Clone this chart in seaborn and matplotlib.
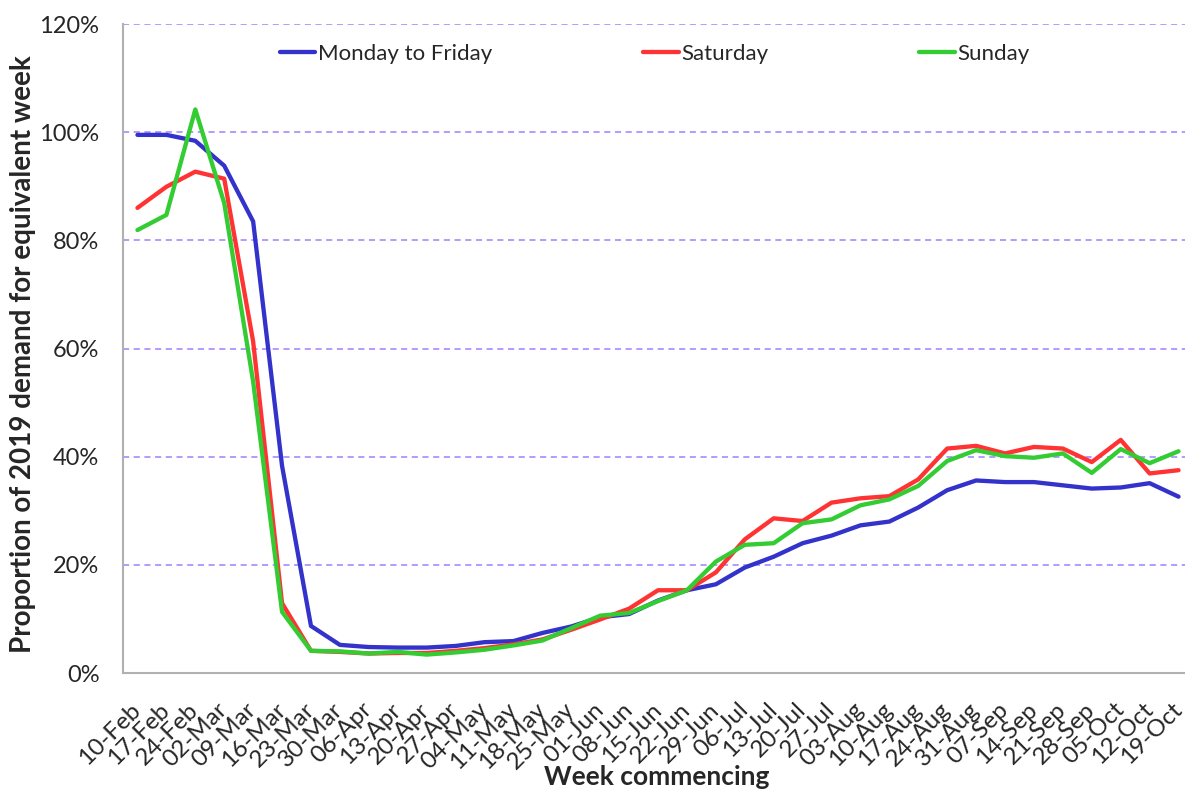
import numpy as np
import pandas as pd
import matplotlib
matplotlib.use("Agg")
import matplotlib.pyplot as plt
import seaborn as sns
from matplotlib.ticker import FixedLocator, FuncFormatter

weeks = ["10-Feb", "17-Feb", "24-Feb", "02-Mar", "09-Mar", "16-Mar", "23-Mar", "30-Mar",
         "06-Apr", "13-Apr", "20-Apr", "27-Apr", "04-May", "11-May", "18-May", "25-May",
         "01-Jun", "08-Jun", "15-Jun", "22-Jun", "29-Jun", "06-Jul", "13-Jul", "20-Jul",
         "27-Jul", "03-Aug", "10-Aug", "17-Aug", "24-Aug", "31-Aug", "07-Sep", "14-Sep",
         "21-Sep", "28-Sep", "05-Oct", "12-Oct", "19-Oct"]

mon_fri = [99.5, 99.5, 98.4, 93.8, 83.5, 38.3, 8.7, 5.2, 4.8, 4.7, 4.7, 5.0, 5.7, 5.9,
           7.4, 8.6, 10.3, 10.9, 13.4, 15.3, 16.4, 19.5, 21.5, 24.0, 25.4, 27.3, 28.0,
           30.6, 33.8, 35.6, 35.3, 35.3, 34.7, 34.1, 34.3, 35.1, 32.6]
saturday = [86.0, 89.9, 92.7, 91.4, 61.3, 12.9, 4.1, 3.9, 3.6, 3.7, 3.7, 4.1, 4.6, 5.3,
            6.2, 8.0, 9.9, 11.9, 15.3, 15.3, 18.6, 24.7, 28.6, 28.1, 31.5, 32.3, 32.7,
            35.8, 41.5, 42.0, 40.6, 41.8, 41.5, 39.0, 43.1, 36.9, 37.5]
sunday = [81.9, 84.7, 104.2, 86.9, 53.9, 11.3, 4.1, 4.0, 3.6, 3.9, 3.4, 3.8, 4.3, 5.1,
          6.0, 8.3, 10.6, 11.1, 13.3, 15.3, 20.6, 23.7, 24.0, 27.7, 28.4, 31.0, 32.1,
          34.6, 39.2, 41.2, 40.1, 39.8, 40.6, 37.0, 41.4, 38.8, 41.0]

series_names = ["Monday to Friday", "Saturday", "Sunday"]
colors = ["#3333CC", "#FF3333", "#33CC33"]
y_ticks = [0, 20, 40, 60, 80, 100, 120]

n = len(weeks)
df = pd.DataFrame({
    "pos": list(range(n)) * 3,
    "value": mon_fri + saturday + sunday,
    "series": [series_names[0]] * n + [series_names[1]] * n + [series_names[2]] * n,
})

sns.set_style("white")
plt.rcParams["font.family"] = ["Lato", "DejaVu Sans"]

fig = plt.figure(figsize=(11.85, 7.91), dpi=100)
AX_W = 1070
ax = fig.add_axes([123 / 1185, 118 / 791, AX_W / 1185, 649 / 791])

sns.lineplot(data=df, x="pos", y="value", hue="series", hue_order=series_names,
             palette=colors, linewidth=3.1, ax=ax, sort=False)

ax.set_xlim(-0.5, n - 0.5)
ax.set_ylim(0, 120)

# grid
for yv in y_ticks[1:]:
    ax.axhline(yv, color="#9f7fff", linestyle=(0, (4, 3)), linewidth=1.1, zorder=0)

ax.yaxis.set_major_locator(FixedLocator(y_ticks))
ax.yaxis.set_major_formatter(FuncFormatter(lambda v, p: f"{int(v)}%"))
ax.xaxis.set_major_locator(FixedLocator(list(range(n))))
ax.set_xticklabels(weeks)
ax.xaxis.set_minor_locator(FixedLocator(list(np.arange(-0.5, n, 1.0))))

ax.tick_params(axis="x", which="major", length=0, labelsize=17.5, pad=24)
ax.tick_params(axis="x", which="minor", length=7, width=1.2, color="#b0b0b0", direction="out")
ax.tick_params(axis="y", which="major", length=7, width=1.2, color="#b0b0b0",
               direction="out", labelsize=17, pad=10)
for lab in ax.get_xticklabels():
    lab.set_rotation(45)
    lab.set_ha("right")
    lab.set_va("center")
    lab.set_rotation_mode("anchor")

for s in ["top", "right"]:
    ax.spines[s].set_visible(False)
for s in ["left", "bottom"]:
    ax.spines[s].set_color("#b0b0b0")
    ax.spines[s].set_linewidth(1.5)

ax.set_xlabel("Week commencing", fontsize=19, fontweight="bold")
ax.set_ylabel("Proportion of 2019 demand for equivalent week", fontsize=20,
              fontweight="bold")
ax.xaxis.set_label_coords((657 - 123) / AX_W, -(765 - 673) / 649)
ax.yaxis.set_label_coords(-(123 - 36) / AX_W, (673 - 354) / 649)

handles, labels = ax.get_legend_handles_labels()
ax.legend(handles, labels, ncol=3, frameon=False, loc="center left",
          bbox_to_anchor=((271 - 123) / AX_W, (673 - 54) / 649), fontsize=16,
          handlelength=1.6, handletextpad=0.1, columnspacing=6.8, borderaxespad=0)

fig.savefig("out.png", dpi=100)
